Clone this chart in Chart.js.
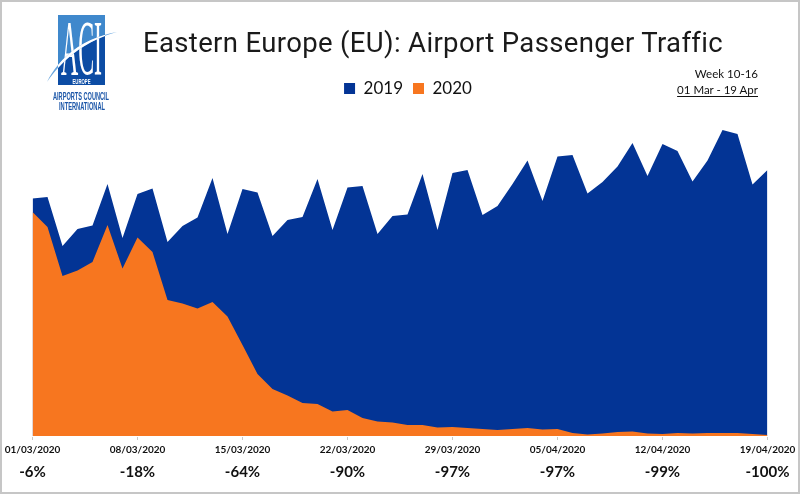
<!DOCTYPE html>
<html>
<head>
<meta charset="utf-8">
<script src="https://cdn.jsdelivr.net/npm/chart.js@4/dist/chart.umd.min.js"></script>
<style>
  html, body { margin:0; padding:0; background:#fff; }
  #page { position:relative; width:800px; height:494px; overflow:hidden; }
  #frame { position:absolute; left:0; top:0; width:796px; height:490px; border:2px solid #c6c6c6; pointer-events:none; }
  #title { position:absolute; left:143px; top:26px; white-space:nowrap;
           font:400 27.5px Roboto, sans-serif; letter-spacing:0.35px; color:#1a1a1a; }
  #note { position:absolute; right:42px; top:66px; text-align:right; font:11.5px/16px Lato, sans-serif; color:#111; }
  #note u { text-underline-offset:2px; }
  #logo { position:absolute; left:44px; top:10px; }
</style>
</head>
<body>
<div id="page">
  <canvas id="chart" width="800" height="494" style="position:absolute;left:0;top:0"></canvas>
  <svg id="logo" width="80" height="102" viewBox="0 0 80 102">
    <defs>
      <clipPath id="sq"><rect x="14" y="5" width="47" height="70"/></clipPath>
    </defs>
    <rect x="14" y="5" width="47" height="70" fill="#3f88cc"/>
    <path d="M3 72 C 15 48, 38 28, 73 22 L73 80 L3 80 Z" fill="#0c4ca4" clip-path="url(#sq)"/>
    <text x="17" y="64" font-family="Liberation Serif, serif" font-size="78" fill="#fff" textLength="41" lengthAdjust="spacingAndGlyphs">ACI</text>
    <path d="M3 72 C 15 48, 38 28, 73 22 C 40 31, 18 50, 3 72 Z" fill="#6aa6de"/>
    <path d="M3 72 C 15 48, 38 28, 73 22 C 40 31, 18 50, 3 72 Z" fill="#fff" clip-path="url(#sq)"/>
    <text x="37.5" y="73.5" text-anchor="middle" font-family="Liberation Sans, sans-serif" font-weight="700" font-size="6.5" fill="#fff" textLength="18" lengthAdjust="spacingAndGlyphs">EUROPE</text>
    <text x="37" y="90" text-anchor="middle" font-family="Liberation Sans, sans-serif" font-weight="700" font-size="10" fill="#1b56a8" textLength="56" lengthAdjust="spacingAndGlyphs">AIRPORTS COUNCIL</text>
    <text x="38" y="100" text-anchor="middle" font-family="Liberation Sans, sans-serif" font-weight="700" font-size="10" fill="#1b56a8" textLength="46" lengthAdjust="spacingAndGlyphs">INTERNATIONAL</text>
  </svg>
  <div id="title">Eastern Europe (EU): Airport Passenger Traffic</div>
  <div id="note">Week 10-16<br><u>01 Mar - 19 Apr</u></div>
  <div id="frame"></div>
</div>
<script>
const days = [
  '01/03/2020','02/03/2020','03/03/2020','04/03/2020','05/03/2020','06/03/2020','07/03/2020',
  '08/03/2020','09/03/2020','10/03/2020','11/03/2020','12/03/2020','13/03/2020','14/03/2020',
  '15/03/2020','16/03/2020','17/03/2020','18/03/2020','19/03/2020','20/03/2020','21/03/2020',
  '22/03/2020','23/03/2020','24/03/2020','25/03/2020','26/03/2020','27/03/2020','28/03/2020',
  '29/03/2020','30/03/2020','31/03/2020','01/04/2020','02/04/2020','03/04/2020','04/04/2020',
  '05/04/2020','06/04/2020','07/04/2020','08/04/2020','09/04/2020','10/04/2020','11/04/2020',
  '12/04/2020','13/04/2020','14/04/2020','15/04/2020','16/04/2020','17/04/2020','18/04/2020',
  '19/04/2020'
];
// no value axis in the source, so these are read in relative units
const pax2019 = [
  237.5,239,190,207,210.5,252,198,242,247.5,194,
  210,218.5,258,202,247,243.5,200,216,219,257,
  206,248.5,250,202,220,221.5,262,206,263,266,
  221,230,252,275.5,235,279.5,281,242.5,254,269.5,
  293,260,292,285,254.5,275.5,306,302,251.5,266
];
const pax2020 = [
  224,209,160,165.5,174,211,167.5,198.5,184,136,
  132.5,127.5,134,119.5,91,62,47,40.5,33,32,
  24.5,26,18,14.5,13.5,11,11,8.5,9,8,
  7,6,7,8,6.5,7,3,1.5,2.5,4,
  4.5,2.5,2,3,2.5,3,3,3,2,1
];
const weekPct = ['-6%','-18%','-64%','-90%','-97%','-97%','-99%','-100%'];

const BLUE = '#033495';
const ORANGE = '#f7761f';

// tick every 7 days, index -> label
const weekly = (i, text) => i % 7 === 0 ? text : null;

// legend sits a little right of the page centre
const legendShift = {
  id: 'legendShift',
  afterLayout(chart) {
    chart.legend.left += 8;
    chart.legend.right += 8;
  }
};

new Chart(document.getElementById('chart').getContext('2d'), {
  type: 'line',
  data: {
    labels: days,
    datasets: [
      // first dataset paints on top, so 2020 goes first
      { label: '2020', data: pax2020, backgroundColor: ORANGE, borderColor: ORANGE, borderWidth: 0, pointRadius: 0, fill: 'origin', tension: 0 },
      { label: '2019', data: pax2019, backgroundColor: BLUE, borderColor: BLUE, borderWidth: 0, pointRadius: 0, fill: 'origin', tension: 0 }
    ]
  },
  plugins: [legendShift],
  options: {
    responsive: false,
    animation: false,
    layout: { padding: { left: 32.5, right: 32.5, top: 70, bottom: 0 } },
    plugins: {
      tooltip: { enabled: false },
      legend: {
        position: 'top',
        labels: {
          sort: (a, b) => b.datasetIndex - a.datasetIndex,
          font: { family: 'Lato, sans-serif', size: 17 },
          color: '#111',
          boxWidth: 11, boxHeight: 11, padding: 10
        }
      }
    },
    scales: {
      y: { display: false, min: 0, max: 329 },
      x: {
        offset: false,
        weight: 1,
        afterFit: s => { s.height = 24; },
        border: { color: 'rgba(0,0,0,0)' },
        grid: { drawOnChartArea: false, drawTicks: true, tickLength: 4, color: '#c8c8c8' },
        ticks: {
          autoSkip: false, maxRotation: 0, padding: 4,
          color: '#111',
          font: { family: 'Lato, sans-serif', size: 10, weight: 'bold' },
          callback: function (v, i) { return weekly(i, this.getLabelForValue(v)); }
        }
      },
      x2: {
        type: 'category',
        position: 'bottom',
        weight: 2,
        offset: false,
        afterFit: s => { s.height = 34; },
        border: { display: false },
        grid: { display: false, drawTicks: false },
        ticks: {
          autoSkip: false, maxRotation: 0, padding: 3,
          color: '#111',
          font: { family: 'Lato, sans-serif', size: 15, weight: 'bold' },
          callback: (v, i) => weekly(i, weekPct[i / 7])
        }
      }
    }
  }
});
</script>
</body>
</html>
